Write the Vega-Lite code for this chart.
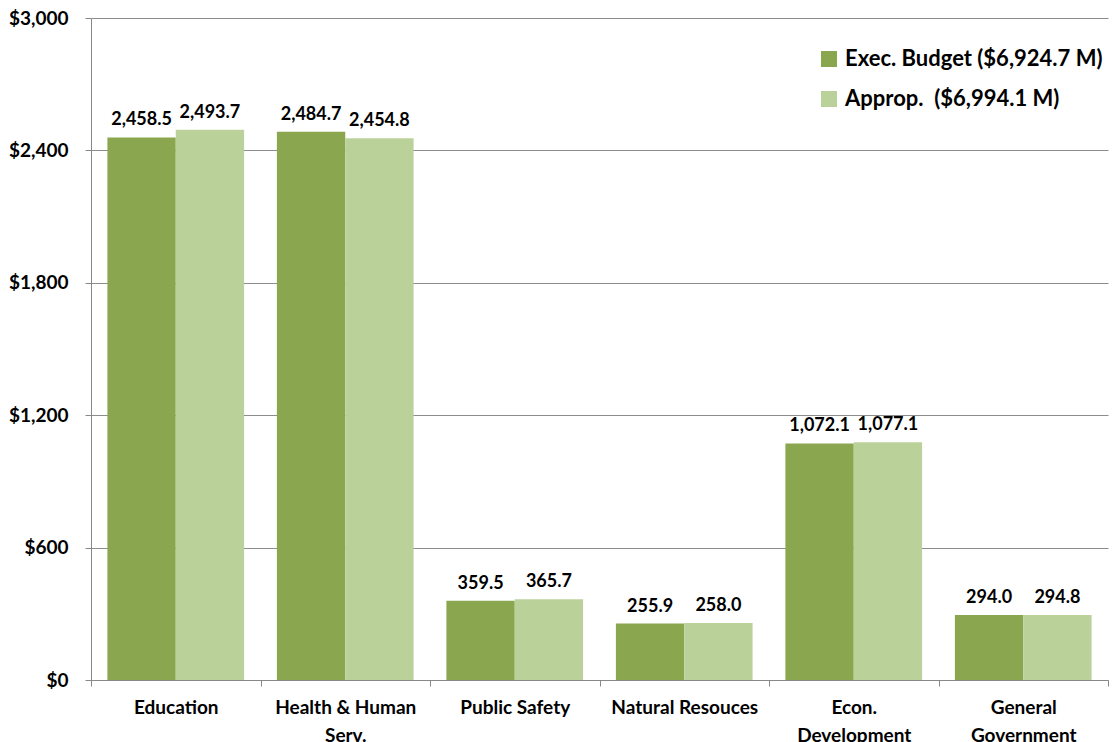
{
  "$schema": "https://vega.github.io/schema/vega-lite/v6.json",
  "width": 1017,
  "height": 662,
  "autosize": "none",
  "padding": {"left": 91, "top": 18, "right": 6, "bottom": 62},
  "background": "white",
  "config": {
    "font": "Lato",
    "view": {"stroke": null},
    "axis": {"labelFont": "Lato", "labelFontWeight": "bold", "labelColor": "black", "labelFontSize": 19, "domainColor": "#888888", "tickColor": "#888888", "gridColor": "#8c8c8c"}
  },
  "data": {
    "values": [
      {"category": "Education", "series": "Exec. Budget ($6,924.7 M)", "value": 2458.5},
      {"category": "Education", "series": "Approp.\u00a0 ($6,994.1 M)", "value": 2493.7},
      {"category": "Health & Human|Serv.", "series": "Exec. Budget ($6,924.7 M)", "value": 2484.7},
      {"category": "Health & Human|Serv.", "series": "Approp.\u00a0 ($6,994.1 M)", "value": 2454.8},
      {"category": "Public Safety", "series": "Exec. Budget ($6,924.7 M)", "value": 359.5},
      {"category": "Public Safety", "series": "Approp.\u00a0 ($6,994.1 M)", "value": 365.7},
      {"category": "Natural Resouces", "series": "Exec. Budget ($6,924.7 M)", "value": 255.9},
      {"category": "Natural Resouces", "series": "Approp.\u00a0 ($6,994.1 M)", "value": 258.0},
      {"category": "Econ.|Development", "series": "Exec. Budget ($6,924.7 M)", "value": 1072.1},
      {"category": "Econ.|Development", "series": "Approp.\u00a0 ($6,994.1 M)", "value": 1077.1},
      {"category": "General|Government", "series": "Exec. Budget ($6,924.7 M)", "value": 294.0},
      {"category": "General|Government", "series": "Approp.\u00a0 ($6,994.1 M)", "value": 294.8}
    ]
  },
  "encoding": {
    "x": {
      "field": "category", "type": "nominal", "sort": null,
      "scale": {"paddingInner": 0, "paddingOuter": 0},
      "axis": {"title": null, "labelAngle": 0, "tickBand": "extent", "tickSize": 6, "labelPadding": 12, "labelLineHeight": 28, "labelExpr": "split(datum.label, '|')", "labelLimit": 200, "grid": false}
    },
    "xOffset": {
      "field": "series", "type": "nominal", "sort": null,
      "scale": {"paddingInner": 0, "paddingOuter": 0.24}
    },
    "y": {
      "field": "value", "type": "quantitative",
      "scale": {"domain": [0, 3000], "nice": false},
      "axis": {"title": null, "values": [0, 600, 1200, 1800, 2400, 3000], "labelExpr": "'$' + format(datum.value, ',')", "tickSize": 6, "labelPadding": 17, "grid": true}
    }
  },
  "layer": [
    {
      "mark": {"type": "bar"},
      "encoding": {
        "color": {
          "field": "series", "type": "nominal", "sort": null,
          "scale": {"range": ["#8aa64f", "#bbd19a"]},
          "legend": {"title": null, "orient": "none", "legendX": 727, "legendY": 30, "symbolType": "square", "symbolSize": 256, "symbolStrokeWidth": 0, "labelFontSize": 22, "labelFontWeight": "bold", "labelFont": "Lato", "labelColor": "black", "rowPadding": 18, "labelOffset": 5, "labelLimit": 400}
        }
      }
    },
    {
      "mark": {"type": "text", "baseline": "alphabetic", "dy": -12, "fontSize": 18, "fontWeight": "bold", "font": "Lato", "color": "black"},
      "encoding": {
        "text": {"field": "value", "type": "quantitative", "format": ",.1f"}
      }
    }
  ]
}
